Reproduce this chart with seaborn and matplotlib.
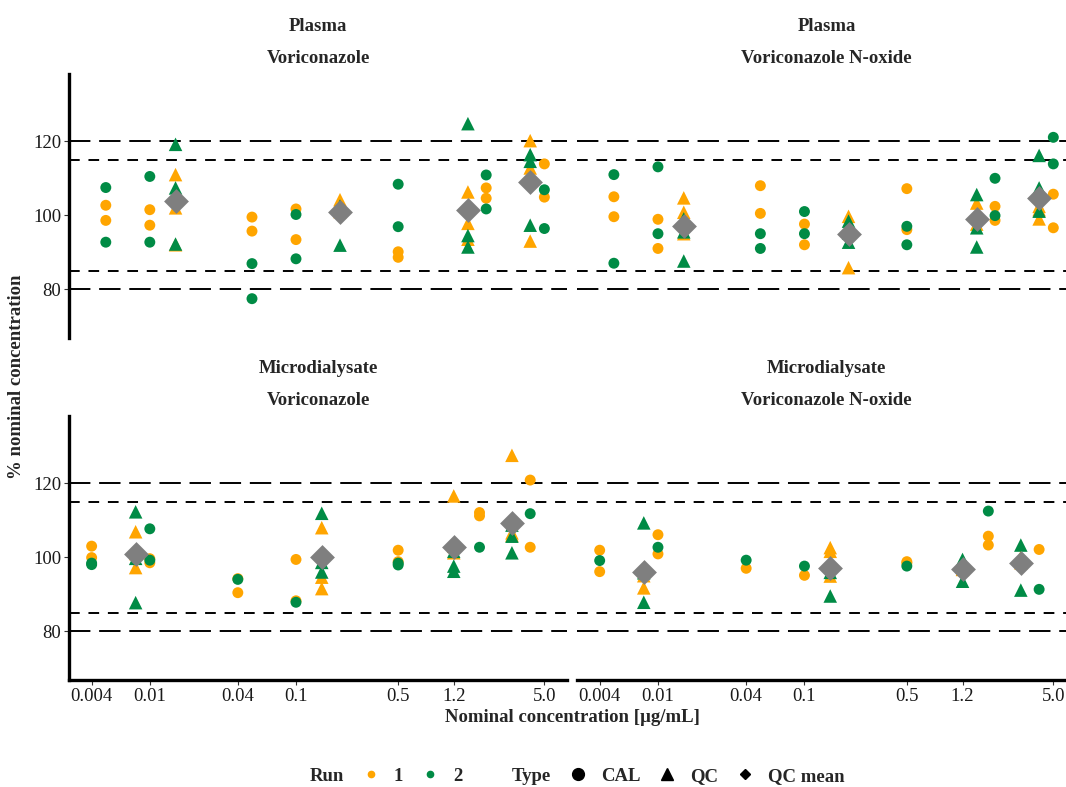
import matplotlib
matplotlib.use("Agg")
import matplotlib.pyplot as plt
import numpy as np
import pandas as pd
import seaborn as sns
from matplotlib.lines import Line2D

# ---------------------------------------------------------------------------
# Nominal concentrations (µg/mL)
plasma_cal_conc = [0.005, 0.01, 0.05, 0.1, 0.5, 2.0, 5.0]
plasma_qc_conc = [0.015, 0.2, 1.5, 4.0]
micro_cal_conc = [0.004, 0.01, 0.04, 0.1, 0.5, 1.8, 4.0]
micro_qc_conc = [0.008, 0.15, 1.2, 3.0]

x_breaks = [0.004, 0.01, 0.04, 0.1, 0.5, 1.2, 5.0]
x_labels = ["0.004", "0.01", "0.04", "0.1", "0.5", "1.2", "5.0"]
y_breaks = [80, 100, 120]
y_labels = ["80", "100", "120"]

# Acceptance limits (% nominal)
limits_outer = [80, 120]
limits_inner = [85, 115]

# Plasma – voriconazole (% nominal), one inner list per concentration level
pv_cal_run1 = [[102.7, 98.6], [101.5, 97.3], [99.5, 95.7], [101.7, 93.4],
               [90.1, 88.6], [107.4, 104.6], [113.9, 104.9]]
pv_cal_run2 = [[107.5, 92.7], [110.5, 92.7], [86.9, 77.4], [100.2, 88.2],
               [108.4, 96.9], [110.9, 101.7], [106.9, 96.4]]
pv_qc_run1 = [[111.0, 102.0, 92.0], [104.2, 103.5, 101.0],
              [106.3, 97.8, 93.5], [120.2, 112.8, 93.0]]
pv_qc_run2 = [[119.2, 107.4, 92.2], [102.5, 101.7, 91.9],
              [124.8, 94.5, 91.4], [116.4, 114.6, 97.3]]

# Plasma – voriconazole N-oxide
pn_cal_run1 = [[105.0, 99.6], [98.9, 91.0], [108.0, 100.5], [97.6, 92.0],
               [107.2, 96.1], [102.4, 98.6], [105.7, 96.6]]
pn_cal_run2 = [[111.0, 87.0], [113.1, 95.0], [95.0, 91.0], [101.0, 95.0],
               [97.0, 92.0], [110.0, 99.9], [121.1, 113.9]]
pn_qc_run1 = [[104.7, 100.8, 95.0], [99.7, 97.0, 85.8],
              [103.3, 99.5, 97.6], [102.4, 101.5, 99.0]]
pn_qc_run2 = [[99.0, 95.5, 87.6], [98.4, 95.2, 92.7],
              [105.6, 96.6, 91.4], [116.2, 107.4, 101.1]]

# Microdialysate – voriconazole
mv_cal_run1 = [[103.0, 99.9], [99.6, 98.5], [94.2, 90.4], [99.4, 88.2],
               [101.9, 98.8], [112.1, 111.2], [120.9, 102.7]]
mv_cal_run2 = [[98.0, 98.4], [107.7, 99.2], [94.0], [87.8],
               [97.9, 98.4], [102.7], [111.8]]
mv_qc_run1 = [[106.9, 101.0, 97.2], [108.0, 94.6, 91.5],
              [116.6, 103.0, 101.2], [127.6, 106.6, 106.0]]
mv_qc_run2 = [[112.3, 99.7, 87.7], [111.9, 98.6, 96.0],
              [101.6, 97.6, 96.2], [108.7, 105.7, 101.2]]

# Microdialysate – voriconazole N-oxide
mn_cal_run1 = [[101.9, 96.1], [106.1, 100.9], [97.0], [95.1],
               [98.8, 98.4], [105.7, 103.3], [102.1]]
mn_cal_run2 = [[99.1], [102.7], [99.2], [97.6],
               [97.6], [112.5], [91.3]]
mn_qc_run1 = [[97.0, 95.0, 91.7], [102.6, 101.6, 94.9],
              [97.5, 96.8, 96.7], [100.0, 99.0, 98.5]]
mn_qc_run2 = [[109.3, 95.8, 87.8], [97.5, 95.9, 89.5],
              [99.4, 97.5, 93.5], [103.3, 99.1, 91.1]]

run_colors = {"1": "#FFA500", "2": "#008B45"}
qc_mean_color = "#7F7F7F"
FS = 13.5


def long_table(cal_conc, qc_conc, cal1, cal2, qc1, qc2):
    rows = []
    for typ, concs, runs in (("CAL", cal_conc, (cal1, cal2)),
                             ("QC", qc_conc, (qc1, qc2))):
        for run_id, series in zip(("1", "2"), runs):
            for c, vals in zip(concs, series):
                for v in vals:
                    rows.append({"conc": c, "pct": v, "Run": run_id, "Type": typ})
    return pd.DataFrame(rows)


panels = [
    ("Plasma", "Voriconazole",
     long_table(plasma_cal_conc, plasma_qc_conc, pv_cal_run1, pv_cal_run2, pv_qc_run1, pv_qc_run2)),
    ("Plasma", "Voriconazole N-oxide",
     long_table(plasma_cal_conc, plasma_qc_conc, pn_cal_run1, pn_cal_run2, pn_qc_run1, pn_qc_run2)),
    ("Microdialysate", "Voriconazole",
     long_table(micro_cal_conc, micro_qc_conc, mv_cal_run1, mv_cal_run2, mv_qc_run1, mv_qc_run2)),
    ("Microdialysate", "Voriconazole N-oxide",
     long_table(micro_cal_conc, micro_qc_conc, mn_cal_run1, mn_cal_run2, mn_qc_run1, mn_qc_run2)),
]

sns.set_theme(style="white")
plt.rcParams["font.family"] = ["Liberation Serif", "DejaVu Serif"]

W, H = 1066, 787
fig = plt.figure(figsize=(W / 100, H / 100), dpi=100)


def px_axes(left, top, right, bottom):
    return fig.add_axes([left / W, 1 - bottom / H, (right - left) / W, (bottom - top) / H])


boxes = [(69, 74, 567, 338), (577, 74, 1076, 338),
         (69, 416, 567, 680), (577, 416, 1076, 680)]

log_lo, log_hi = np.log10(min(x_breaks)), np.log10(max(x_breaks))
pad = 0.05 * (log_hi - log_lo)
xlim = (10 ** (log_lo - pad), 10 ** (log_hi + pad))
ylim = (66.75, 138.25)

for i, ((matrix, analyte, df), box) in enumerate(zip(panels, boxes)):
    ax = px_axes(*box)
    ax.set_xscale("log")
    ax.set_xlim(*xlim)
    ax.set_ylim(*ylim)

    for y in limits_outer:
        ax.axhline(y, color="black", lw=1.4, dashes=(11, 4.5), zorder=1)
    for y in limits_inner:
        ax.axhline(y, color="black", lw=1.4, dashes=(5.5, 4.5), zorder=1)

    cal = df[df["Type"] == "CAL"]
    qc = df[df["Type"] == "QC"]
    sns.scatterplot(data=cal, x="conc", y="pct", hue="Run", hue_order=["1", "2"],
                    palette=run_colors, marker="o", s=62, linewidth=0,
                    legend=False, ax=ax, zorder=3)
    sns.scatterplot(data=qc, x="conc", y="pct", hue="Run", hue_order=["1", "2"],
                    palette=run_colors, marker="^", s=95, linewidth=0,
                    legend=False, ax=ax, zorder=3)

    qc_mean = qc.groupby("conc", as_index=False)["pct"].mean()
    sns.scatterplot(data=qc_mean, x="conc", y="pct", marker="D", color=qc_mean_color,
                    s=160, linewidth=0, legend=False, ax=ax, zorder=4)

    ax.set_xlabel("")
    ax.set_ylabel("")
    ax.set_facecolor("none")

    left_col = i % 2 == 0
    bottom_row = i >= 2
    for side in ("top", "right"):
        ax.spines[side].set_visible(False)
    ax.spines["left"].set_visible(left_col)
    ax.spines["bottom"].set_visible(bottom_row)
    for side in ("left", "bottom"):
        ax.spines[side].set_linewidth(2.4)
        ax.spines[side].set_color("black")

    if left_col:
        ax.set_yticks(y_breaks)
        ax.set_yticklabels(y_labels)
        ax.tick_params(axis="y", left=True, length=3.5, width=0.8, color="#333333",
                       labelsize=FS, pad=2, labelcolor="#1a1a1a")
    else:
        ax.set_yticks([])
    if bottom_row:
        ax.set_xticks(x_breaks)
        ax.set_xticklabels(x_labels)
        ax.tick_params(axis="x", bottom=True, length=3.5, width=0.8, color="#333333",
                       labelsize=FS, pad=2.5, labelcolor="#1a1a1a")
    else:
        ax.set_xticks([])
    ax.minorticks_off()

    ax.annotate(matrix, xy=(0.5, 1), xycoords="axes fraction", xytext=(0, 34.5),
                textcoords="offset points", ha="center", va="center",
                fontsize=FS, fontweight="bold")
    ax.annotate(analyte, xy=(0.5, 1), xycoords="axes fraction", xytext=(0, 11.5),
                textcoords="offset points", ha="center", va="center",
                fontsize=FS, fontweight="bold")

fig.text(572 / W, 1 - 718 / H, "Nominal concentration [µg/mL]", ha="center", va="center",
         fontsize=FS, fontweight="bold")
fig.text(17 / W, 1 - 377 / H, "% nominal concentration", ha="center", va="center",
         rotation=90, fontsize=FS, fontweight="bold")

blank = Line2D([], [], linestyle="none", marker="")
handles = [
    blank,
    Line2D([], [], linestyle="none", marker="o", color=run_colors["1"], markersize=4.5),
    Line2D([], [], linestyle="none", marker="o", color=run_colors["2"], markersize=4.5),
    blank,
    Line2D([], [], linestyle="none", marker="o", color="black", markersize=8.5),
    Line2D([], [], linestyle="none", marker="^", color="black", markersize=9),
    Line2D([], [], linestyle="none", marker="D", color="black", markersize=5.5),
]
labels = ["Run", "1", "2", "Type", "CAL", "QC", "QC mean"]
fig.legend(handles, labels, ncol=7, loc="center", bbox_to_anchor=(560 / W, 1 - 776 / H),
           frameon=False, prop={"weight": "bold", "size": FS},
           handlelength=1.2, handletextpad=0.6, columnspacing=0.85)

fig.savefig("out.png", dpi=100)
